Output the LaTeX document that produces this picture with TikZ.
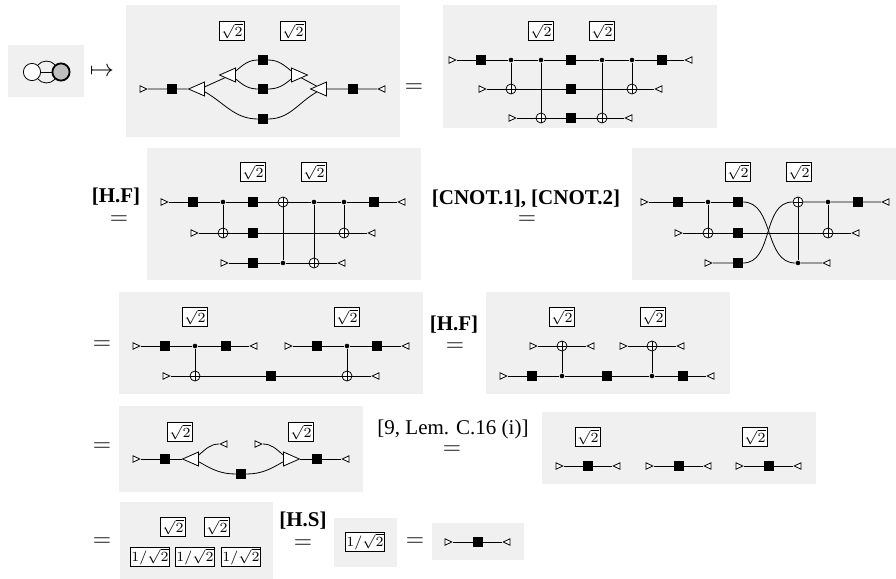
\documentclass[tikz,border=0pt]{standalone}
\usepackage{fontspec}
\setmainfont{Liberation Serif}
\usetikzlibrary{shapes.geometric}

\begin{document}
\begin{tikzpicture}[x=0.5pt, y=0.5pt,
    panel/.style={fill=black!6},
    box/.style={draw, fill=white, inner sep=0.9pt, font=\fontsize{7.5}{9}\selectfont},
    boxm/.style={box, inner sep=0.6pt, font=\fontsize{7}{8}\selectfont},
    sq/.style={fill=black, minimum size=4.6pt, inner sep=0pt},
    ctl/.style={circle, fill=black, minimum size=2.3pt, inner sep=0pt},
    tgt/.style={circle, draw, fill=white, minimum size=5pt, inner sep=0pt,
        path picture={\draw (path picture bounding box.north) -- (path picture bounding box.south)
            (path picture bounding box.west) -- (path picture bounding box.east);}},
    ins/.style={isosceles triangle, isosceles triangle stretches, draw, fill=white, inner sep=0pt,
        minimum width=3.2pt, minimum height=3.4pt},
    outs/.style={ins, shape border rotate=180},
    bigr/.style={isosceles triangle, isosceles triangle stretches, draw, fill=white, inner sep=0pt,
        minimum width=7pt, minimum height=8pt},
    bigl/.style={bigr, shape border rotate=180},
    vtx/.style={circle, draw, fill=white, inner sep=0pt, minimum size=8.6pt},
    eqs/.style={inner sep=0pt, font=\fontsize{12}{14}\selectfont},
    lab/.style={inner sep=0pt, font=\fontsize{10.5}{12}\selectfont\bfseries},
    txt/.style={inner sep=0pt, font=\fontsize{10.5}{12}\selectfont}]
    \useasboundingbox (0,0) rectangle (896,-579);

    % Graph
    \fill[panel] (8,-45) rectangle (84,-97);
    \node[vtx] (z-l) at (32,-72) {};
    \node[vtx, fill=black!25, line width=0.9pt] (z-r) at (61,-72) {};
    \draw (z-l) -- (z-r);
    \draw (z-l) to[bend left=50] (z-r);
    \draw (z-l) to[bend right=50] (z-r);
    \node[eqs] (e0) at (102,-72) {$\mapsto$};

    % First diagram
    \fill[panel] (126,-5) rectangle (400,-137);
    \node[box] (a-k1) at (232,-31) {$\sqrt{2}$};
    \node[box] (a-k2) at (293,-31) {$\sqrt{2}$};
    \node[ins] (a-i) at (142,-89) {};
    \node[sq] (a-s1) at (172,-89) {};
    \node[bigl] (a-t1) at (200,-89) {};
    \node[bigl] (a-t2) at (231,-75) {};
    \node[sq] (a-s2) at (263,-60) {};
    \node[sq] (a-s3) at (263,-89) {};
    \node[sq] (a-s4) at (263,-119) {};
    \node[bigr] (a-t3) at (296,-75) {};
    \node[bigl] (a-t4) at (322,-89) {};
    \node[sq] (a-s5) at (353,-89) {};
    \node[outs] (a-o) at (383,-89) {};
    \draw (a-i) -- (a-s1) -- (a-t1) -- (a-t2);
    \draw (a-t2) to[out=40,in=180] (a-s2) to[out=0,in=140] (a-t3);
    \draw (a-t2) to[out=-40,in=180] (a-s3) to[out=0,in=-140] (a-t3);
    \draw (a-t3) -- (a-t4) -- (a-s5) -- (a-o);
    \draw (a-t1) to[out=-30,in=180] (a-s4) to[out=0,in=-150] (a-t4);
    \node[eqs] (e1) at (414,-88) {$=$};

    % Circuit 1
    \fill[panel] (443,-5) rectangle (717,-128);
    \node[box] (b-k1) at (541,-31) {$\sqrt{2}$};
    \node[box] (b-k2) at (602,-31) {$\sqrt{2}$};
    \node[ins] (b-i1) at (451,-60) {};
    \node[sq] (b-s1) at (481,-60) {};
    \node[ctl] (b-c1) at (511,-60) {};
    \node[ctl] (b-c2) at (541,-60) {};
    \node[sq] (b-s2) at (571,-60) {};
    \node[ctl] (b-c3) at (602,-60) {};
    \node[ctl] (b-c4) at (632,-60) {};
    \node[sq] (b-s3) at (662,-60) {};
    \node[outs] (b-o1) at (690,-60) {};
    \node[ins] (b-i2) at (481,-89) {};
    \node[tgt] (b-x1) at (511,-89) {};
    \node[sq] (b-s4) at (571,-89) {};
    \node[tgt] (b-x4) at (632,-89) {};
    \node[outs] (b-o2) at (660,-89) {};
    \node[ins] (b-i3) at (511,-118) {};
    \node[tgt] (b-x2) at (541,-118) {};
    \node[sq] (b-s5) at (571,-118) {};
    \node[tgt] (b-x3) at (602,-118) {};
    \node[outs] (b-o3) at (630,-118) {};
    \draw (b-i1) -- (b-s1) -- (b-c1) -- (b-c2) -- (b-s2) -- (b-c3) -- (b-c4) -- (b-s3) -- (b-o1);
    \draw (b-i2) -- (b-x1) -- (b-s4) -- (b-x4) -- (b-o2);
    \draw (b-i3) -- (b-x2) -- (b-s5) -- (b-x3) -- (b-o3);
    \draw (b-c1) -- (b-x1);
    \draw (b-c2) -- (b-x2);
    \draw (b-c3) -- (b-x3);
    \draw (b-c4) -- (b-x4);

    % Circuit 2
    \node[lab] (l2) at (116,-197) {[H.F]};
    \node[eqs] (e2) at (119,-220) {$=$};
    \fill[panel] (147,-148) rectangle (421,-280);
    \node[box] (c-k1) at (253,-172) {$\sqrt{2}$};
    \node[box] (c-k2) at (314,-172) {$\sqrt{2}$};
    \node[ins] (c-i1) at (163,-202) {};
    \node[sq] (c-s1) at (193,-202) {};
    \node[ctl] (c-c1) at (223,-202) {};
    \node[sq] (c-s2) at (253,-202) {};
    \node[tgt] (c-x2) at (283,-202) {};
    \node[ctl] (c-c3) at (314,-202) {};
    \node[ctl] (c-c4) at (344,-202) {};
    \node[sq] (c-s3) at (374,-202) {};
    \node[outs] (c-o1) at (403,-202) {};
    \node[ins] (c-i2) at (193,-233) {};
    \node[tgt] (c-x1) at (223,-233) {};
    \node[sq] (c-s4) at (253,-233) {};
    \node[tgt] (c-x4) at (344,-233) {};
    \node[outs] (c-o2) at (373,-233) {};
    \node[ins] (c-i3) at (223,-263) {};
    \node[sq] (c-s5) at (253,-263) {};
    \node[ctl] (c-c2) at (283,-263) {};
    \node[tgt] (c-x3) at (314,-263) {};
    \node[outs] (c-o3) at (343,-263) {};
    \draw (c-i1) -- (c-s1) -- (c-c1) -- (c-s2) -- (c-x2) -- (c-c3) -- (c-c4) -- (c-s3) -- (c-o1);
    \draw (c-i2) -- (c-x1) -- (c-s4) -- (c-x4) -- (c-o2);
    \draw (c-i3) -- (c-s5) -- (c-c2) -- (c-x3) -- (c-o3);
    \draw (c-c1) -- (c-x1);
    \draw (c-x2) -- (c-c2);
    \draw (c-c3) -- (c-x3);
    \draw (c-c4) -- (c-x4);

    % Circuit 3
    \node[lab] (l3) at (526,-199) {[CNOT.1], [CNOT.2]};
    \node[eqs] (e3) at (527,-220) {$=$};
    \fill[panel] (632,-148) rectangle (896,-280);
    \node[box] (d-k1) at (738,-172) {$\sqrt{2}$};
    \node[box] (d-k2) at (799,-172) {$\sqrt{2}$};
    \node[ins] (d-i1) at (643,-202) {};
    \node[sq] (d-s1) at (678,-202) {};
    \node[ctl] (d-c1) at (708,-202) {};
    \node[sq] (d-s2) at (738,-202) {};
    \node[tgt] (d-x2) at (798,-202) {};
    \node[ctl] (d-c3) at (828,-202) {};
    \node[sq] (d-s3) at (858,-202) {};
    \node[outs] (d-o1) at (887,-202) {};
    \node[ins] (d-i2) at (677,-233) {};
    \node[tgt] (d-x1) at (708,-233) {};
    \node[sq] (d-s4) at (738,-233) {};
    \node[tgt] (d-x4) at (828,-233) {};
    \node[outs] (d-o2) at (857,-233) {};
    \node[ins] (d-i3) at (707,-263) {};
    \node[sq] (d-s5) at (738,-263) {};
    \node[ctl] (d-c2) at (798,-263) {};
    \node[outs] (d-o3) at (828,-263) {};
    \draw (d-i1) -- (d-s1) -- (d-c1) -- (d-s2);
    \draw (d-s2) to[out=0,in=180] (d-c2) -- (d-o3);
    \draw (d-i3) -- (d-s5) to[out=0,in=180] (d-x2) -- (d-c3) -- (d-s3) -- (d-o1);
    \draw (d-i2) -- (d-x1) -- (d-s4) -- (d-x4) -- (d-o2);
    \draw (d-c1) -- (d-x1);
    \draw (d-x2) -- (d-c2);
    \draw (d-c3) -- (d-x4);

    % Circuit 4
    \node[eqs] (e4) at (102,-345) {$=$};
    \fill[panel] (119,-292) rectangle (423,-394);
    \node[box] (e-k1) at (195,-317) {$\sqrt{2}$};
    \node[box] (e-k2) at (347,-317) {$\sqrt{2}$};
    \node[ins] (e-i1) at (135,-346) {};
    \node[sq] (e-s1) at (165,-346) {};
    \node[ctl] (e-c1) at (195,-346) {};
    \node[sq] (e-s2) at (226,-346) {};
    \node[outs] (e-o1) at (255,-346) {};
    \node[ins] (e-i2) at (287,-346) {};
    \node[sq] (e-s3) at (317,-346) {};
    \node[ctl] (e-c2) at (347,-346) {};
    \node[sq] (e-s4) at (377,-346) {};
    \node[outs] (e-o2) at (407,-346) {};
    \node[ins] (e-i3) at (165,-376) {};
    \node[tgt] (e-x1) at (195,-376) {};
    \node[sq] (e-s5) at (271,-376) {};
    \node[tgt] (e-x2) at (347,-376) {};
    \node[outs] (e-o3) at (377,-376) {};
    \draw (e-i1) -- (e-s1) -- (e-c1) -- (e-s2) -- (e-o1);
    \draw (e-i2) -- (e-s3) -- (e-c2) -- (e-s4) -- (e-o2);
    \draw (e-i3) -- (e-x1) -- (e-s5) -- (e-x2) -- (e-o3);
    \draw (e-c1) -- (e-x1);
    \draw (e-c2) -- (e-x2);

    % Circuit 5
    \node[lab] (l5) at (454,-325) {[H.F]};
    \node[eqs] (e5) at (455,-347) {$=$};
    \fill[panel] (486,-292) rectangle (730,-394);
    \node[box] (f-k1) at (562,-317) {$\sqrt{2}$};
    \node[box] (f-k2) at (653,-317) {$\sqrt{2}$};
    \node[ins] (f-i1) at (532,-346) {};
    \node[tgt] (f-x1) at (562,-346) {};
    \node[outs] (f-o1) at (592,-346) {};
    \node[ins] (f-i2) at (622,-346) {};
    \node[tgt] (f-x2) at (652,-346) {};
    \node[outs] (f-o2) at (682,-346) {};
    \node[ins] (f-i3) at (502,-376) {};
    \node[sq] (f-s1) at (532,-376) {};
    \node[ctl] (f-c1) at (562,-376) {};
    \node[sq] (f-s2) at (607,-376) {};
    \node[ctl] (f-c2) at (652,-376) {};
    \node[sq] (f-s3) at (683,-376) {};
    \node[outs] (f-o3) at (712,-376) {};
    \draw (f-i1) -- (f-x1) -- (f-o1);
    \draw (f-i2) -- (f-x2) -- (f-o2);
    \draw (f-i3) -- (f-s1) -- (f-c1) -- (f-s2) -- (f-c2) -- (f-s3) -- (f-o3);
    \draw (f-x1) -- (f-c1);
    \draw (f-x2) -- (f-c2);

    % Second diagram
    \node[eqs] (e6) at (102,-447) {$=$};
    \fill[panel] (119,-406) rectangle (363,-492);
    \node[box] (g-k1) at (180,-432) {$\sqrt{2}$};
    \node[box] (g-k2) at (301,-432) {$\sqrt{2}$};
    \node[ins] (g-i) at (135,-459) {};
    \node[sq] (g-s1) at (165,-459) {};
    \node[bigl] (g-t1) at (194,-459) {};
    \node[outs] (g-o1) at (225,-444) {};
    \node[sq] (g-s2) at (241,-474) {};
    \node[ins] (g-i2) at (257,-444) {};
    \node[bigr] (g-t2) at (288,-459) {};
    \node[sq] (g-s3) at (317,-459) {};
    \node[outs] (g-o2) at (347,-459) {};
    \draw (g-i) -- (g-s1) -- (g-t1);
    \draw (g-t1) to[out=40,in=180] (g-o1);
    \draw (g-t1) to[out=-30,in=180] (g-s2) to[out=0,in=-150] (g-t2);
    \draw (g-i2) to[out=0,in=140] (g-t2);
    \draw (g-t2) -- (g-s3) -- (g-o2);

    % Three wires
    \node[txt] (l7) at (453,-429) {[9, Lem. C.16 (i)]};
    \node[eqs] (e7) at (452,-450) {$=$};
    \fill[panel] (542,-412) rectangle (816,-484);
    \node[box] (h-k1) at (588,-437) {$\sqrt{2}$};
    \node[box] (h-k2) at (755,-437) {$\sqrt{2}$};
    \node[ins] (h-i1) at (558,-466) {};
    \node[sq] (h-s1) at (588,-466) {};
    \node[outs] (h-o1) at (618,-466) {};
    \node[ins] (h-i2) at (648,-466) {};
    \node[sq] (h-s2) at (679,-466) {};
    \node[outs] (h-o2) at (709,-466) {};
    \node[ins] (h-i3) at (738,-466) {};
    \node[sq] (h-s3) at (769,-466) {};
    \node[outs] (h-o3) at (799,-466) {};
    \draw (h-i1) -- (h-s1) -- (h-o1);
    \draw (h-i2) -- (h-s2) -- (h-o2);
    \draw (h-i3) -- (h-s3) -- (h-o3);

    % Scalars
    \node[eqs] (e8) at (102,-542) {$=$};
    \fill[panel] (120,-502) rectangle (273,-579);
    \node[box] (k-k1) at (173,-527) {$\sqrt{2}$};
    \node[box] (k-k2) at (217,-527) {$\sqrt{2}$};
    \node[boxm] (k-m1) at (150,-557) {$1/\sqrt{2}$};
    \node[boxm] (k-m2) at (195,-557) {$1/\sqrt{2}$};
    \node[boxm] (k-m3) at (241,-557) {$1/\sqrt{2}$};
    \node[lab] (l9) at (303,-521) {[H.S]};
    \node[eqs] (e9) at (303,-544) {$=$};
    \fill[panel] (334,-518) rectangle (397,-567);
    \node[boxm] (m-m1) at (365,-542) {$1/\sqrt{2}$};
    \node[eqs] (e10) at (415,-542) {$=$};
    \fill[panel] (432,-523) rectangle (524,-560);
    \node[ins] (n-i) at (447,-542) {};
    \node[sq] (n-s) at (478,-542) {};
    \node[outs] (n-o) at (508,-542) {};
    \draw (n-i) -- (n-s) -- (n-o);

\end{tikzpicture}
\end{document}
